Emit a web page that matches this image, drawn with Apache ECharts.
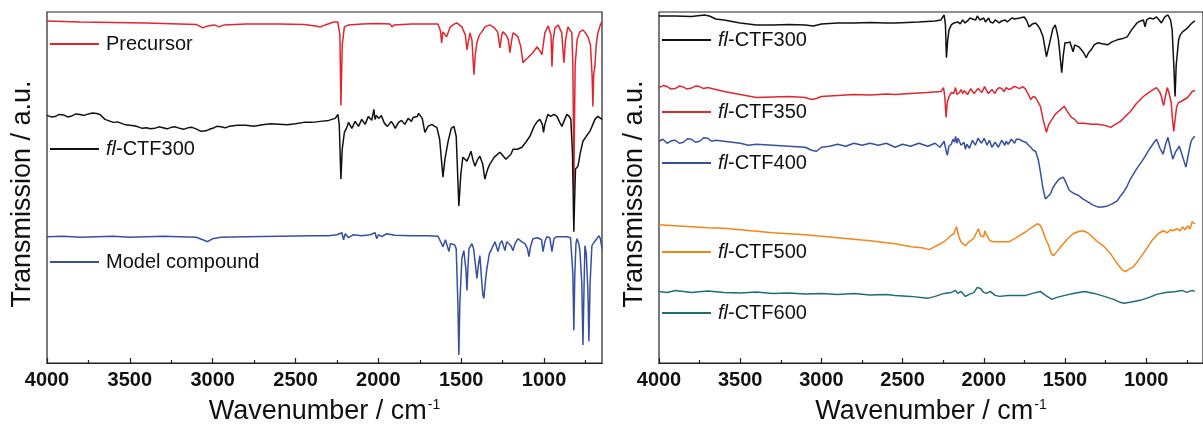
<!DOCTYPE html>
<html>
<head>
<meta charset="utf-8">
<script src="https://cdn.jsdelivr.net/npm/echarts@6/dist/echarts.min.js"></script>
<style>
html,body{margin:0;padding:0;background:#fff;}
#chart{width:1203px;height:430px;}
</style>
</head>
<body>
<div id="chart"></div>
<script>
// ---- tick labels (wavenumber, cm-1) ----
const majorTicks = [4000, 3500, 3000, 2500, 2000, 1500, 1000];
const minorTicks = [3750, 3250, 2750, 2250, 1750, 1250, 750];

// ---- left panel spectra: [wavenumber, transmission a.u.] ----
const precursor = [[4000,344],[3900,343.5],[3800,343],[3600,342.5],[3400,342],[3200,341],[3100,340.5],[3060,337],[3030,339],[2990,340],[2960,338],[2930,340],[2800,341],[2600,341],[2450,340.5],[2380,339],[2350,338],[2320,340],[2270,343],[2245,343],[2232,330],[2226,259],[2218,320],[2205,338],[2180,340],[2100,341],[2000,341.5],[1930,341],[1918,338],[1905,340],[1800,341],[1700,341],[1640,341],[1625,334],[1618,322],[1610,333],[1598,333],[1588,328],[1580,330],[1566,338],[1540,341],[1526,342],[1496,338],[1475,330],[1465,315],[1455,325],[1447,332],[1435,325],[1423,290],[1415,310],[1405,322],[1390,330],[1375,333],[1357,338],[1327,340],[1300,337],[1280,333],[1266,317],[1255,330],[1248,333],[1230,330],[1215,325],[1206,312],[1195,325],[1187,332],[1170,330],[1157,328],[1140,318],[1127,302],[1112,305],[1097,307],[1080,310],[1067,312],[1043,318],[1025,314],[1013,310],[1003,322],[995,332],[975,339],[964,340],[958,330],[952,298],[945,325],[934,337],[915,340],[904,340],[893,332],[880,302],[870,325],[856,338],[845,336],[832,332],[826,300],[822,230],[820,173],[817,230],[812,300],[800,325],[784,333],[765,335],[750,332],[735,328],[720,320],[710,290],[705,258],[700,290],[693,298],[685,320],[675,332],[660,340],[650,343]];

const ctf300Left = [[4000,249],[3975,247.5],[3950,248],[3925,250],[3900,249.5],[3875,247.5],[3850,248.5],[3825,250.5],[3800,250],[3775,249],[3750,250.5],[3725,251.5],[3700,251],[3680,250],[3650,245],[3625,243.5],[3600,242],[3575,242.5],[3550,241],[3525,239.5],[3500,239],[3475,238.5],[3450,237.5],[3425,236],[3400,236.5],[3375,235.5],[3350,236],[3325,237.5],[3300,236.5],[3275,235.5],[3250,237],[3225,237.5],[3200,236],[3175,235],[3150,236.5],[3125,237],[3100,235.5],[3070,233],[3040,233.5],[3020,235],[3000,236],[2975,238],[2950,237.5],[2925,236.5],[2900,238],[2850,239],[2800,239],[2750,238],[2700,239.5],[2650,240.5],[2600,240],[2550,239.5],[2500,240.5],[2450,242],[2400,242],[2350,243],[2300,244],[2260,246],[2244,250],[2236,240],[2226,185],[2218,215],[2205,232],[2190,237],[2180,242],[2171,240],[2160,236],[2150,238],[2140,243],[2130,242],[2120,238],[2110,240],[2100,245],[2090,244],[2080,240],[2070,242],[2060,248],[2050,247],[2040,244],[2033,250],[2027,255],[2020,245],[2012,249],[2005,251],[1998,246],[1990,246],[1982,249],[1973,245],[1963,241],[1955,242],[1945,238],[1935,240],[1922,243],[1910,240],[1898,236],[1888,238],[1878,242],[1870,241],[1860,244],[1850,243],[1840,240],[1830,242],[1820,246],[1809,245],[1800,243],[1790,247],[1778,246],[1765,248],[1757,251],[1749,250],[1735,246],[1719,232],[1700,238],[1677,240],[1660,238],[1647,237],[1630,225],[1610,187],[1598,205],[1580,222],[1560,236],[1544,238],[1530,228],[1514,158],[1502,190],[1490,207],[1478,205],[1465,203],[1452,208],[1441,213],[1430,205],[1417,198],[1400,205],[1387,208],[1370,200],[1357,185],[1340,195],[1327,200],[1300,207],[1280,210],[1266,212],[1245,208],[1230,205],[1218,203],[1200,210],[1187,215],[1160,215],[1133,217],[1110,222],[1085,228],[1060,238],[1040,243],[1025,245],[1010,240],[1003,232],[995,240],[977,250],[960,248],[940,250],[922,248],[905,242],[892,238],[880,243],[862,250],[848,248],[838,245],[828,210],[822,150],[820,132],[816,160],[810,195],[795,198],[780,212],[765,223],[745,228],[723,233],[705,240],[693,245],[675,248],[663,250],[650,245]];

const modelCompound = [[4000,127],[3900,127.5],[3800,126.5],[3700,127],[3600,127.5],[3500,126.5],[3400,127],[3300,127.5],[3200,127],[3100,126.5],[3060,124],[3030,122],[3000,125],[2950,126.5],[2800,127],[2600,127.5],[2400,128],[2300,128],[2250,129],[2220,131],[2210,124],[2200,130],[2180,126],[2150,129],[2100,128],[2050,129],[2020,131],[2010,125],[2000,129],[1980,127],[1950,130],[1900,128.5],[1800,128],[1700,128],[1640,127.5],[1628,127],[1610,117],[1595,124],[1586,123],[1574,112],[1565,120],[1556,122],[1540,119],[1530,115],[1520,60],[1514,8],[1508,60],[1496,105],[1484,113],[1472,95],[1465,73],[1458,100],[1453,115],[1435,120],[1425,115],[1417,115],[1405,85],[1395,100],[1387,108],[1375,80],[1369,68],[1363,65],[1355,80],[1345,95],[1330,110],[1315,115],[1296,122],[1278,112],[1266,120],[1254,123],[1236,113],[1225,122],[1218,123],[1200,118],[1187,113],[1175,120],[1157,125],[1135,122],[1115,120],[1100,115],[1091,107],[1080,118],[1067,125],[1040,126],[1015,124],[1006,112],[995,122],[983,127],[965,126],[952,112],[940,125],[922,127],[880,127],[862,127],[840,126],[832,125],[826,90],[820,33],[814,90],[807,120],[801,125],[790,120],[783,112],[772,80],[765,18],[758,80],[753,118],[745,110],[735,72],[729,22],[722,80],[711,118],[695,122],[681,125],[669,128],[660,125],[650,115]];

// ---- right panel spectra ----
const ctf300 = [[4000,349],[3900,349],[3800,348.5],[3720,350],[3690,349],[3650,346],[3600,345],[3500,342],[3400,340],[3300,340],[3200,340.5],[3100,340],[3050,339],[3000,341],[2900,342],[2800,342],[2700,342.5],[2600,342],[2546,342],[2400,343],[2300,344],[2264,345],[2244,350],[2236,340],[2230,307],[2222,325],[2214,335],[2200,340],[2184,342],[2160,343],[2145,341],[2130,345],[2115,342],[2100,344],[2085,347],[2070,346],[2050,345],[2040,349],[2033,351],[2025,345],[2015,344],[2000,347],[1990,343],[1980,344],[1970,347],[1960,343],[1942,342],[1930,345],[1920,344],[1905,342],[1890,344],[1870,345],[1855,343],[1842,345],[1825,347],[1810,346],[1780,347],[1751,348],[1735,344],[1721,338],[1700,341],[1681,342],[1665,339],[1651,335],[1635,328],[1614,308],[1600,318],[1590,325],[1575,336],[1560,340],[1548,332],[1540,325],[1528,305],[1520,292],[1510,310],[1500,322],[1485,322],[1470,323],[1460,318],[1450,313],[1440,320],[1429,322],[1415,318],[1399,315],[1385,312],[1369,307],[1355,312],[1339,315],[1320,320],[1299,322],[1270,321],[1238,320],[1210,323],[1178,325],[1150,326],[1117,328],[1090,335],[1057,342],[1035,344],[1017,345],[1007,338],[997,345],[977,347],[955,346],[936,348],[920,345],[906,342],[885,348],[866,350],[850,345],[840,335],[830,300],[822,268],[815,300],[800,325],[790,330],[776,333],[760,335],[745,337],[730,340],[717,342],[700,344]];

const ctf350 = [[4000,277],[3975,279],[3950,278],[3925,275.5],[3900,276],[3875,278.5],[3850,277.5],[3825,275.5],[3800,276.5],[3775,278.5],[3750,278],[3725,276],[3700,277],[3650,275],[3600,273],[3500,270],[3400,267],[3300,267.5],[3200,268],[3100,267],[3060,265],[3030,266],[3000,268],[2900,269],[2800,270],[2700,269.5],[2600,270.5],[2546,270],[2450,271],[2350,272],[2264,273],[2248,277],[2240,268],[2232,247],[2225,262],[2214,268],[2200,272],[2185,271],[2174,277],[2165,270],[2150,272],[2140,275],[2130,271],[2120,274],[2110,274],[2100,270],[2090,272],[2080,276],[2070,275],[2060,271],[2050,273],[2035,276],[2023,278],[2012,272],[2005,274],[1995,278],[1985,276],[1972,271],[1960,272],[1950,275],[1942,273],[1930,271],[1920,275],[1905,277],[1890,276],[1875,273],[1862,277],[1845,275],[1830,276],[1815,278],[1800,277.5],[1780,276],[1761,278],[1745,276],[1731,272],[1711,265],[1695,268],[1681,267],[1665,262],[1651,258],[1635,245],[1614,232],[1600,240],[1580,245],[1560,250],[1540,253],[1520,256],[1504,258],[1490,254],[1480,252],[1460,247],[1440,245],[1420,241],[1409,240],[1380,241],[1339,240],[1300,240],[1258,239],[1235,238],[1218,237],[1190,240],[1158,243],[1128,248],[1097,253],[1060,261],[1017,268],[985,272],[957,275],[936,277],[926,278],[915,272],[906,268],[898,262],[892,259],[882,268],[870,277],[860,272],[846,262],[838,245],[830,233],[822,245],[812,258],[800,262],[786,263],[765,265],[745,267],[730,270],[717,273],[700,274]];

const ctf400 = [[4000,223],[3975,225],[3950,221],[3925,223.5],[3900,224],[3875,221],[3850,222],[3825,225.5],[3800,225],[3775,222],[3750,223],[3725,226.5],[3700,226],[3675,223],[3650,224],[3600,223],[3550,222],[3500,221],[3450,219],[3400,220],[3300,219],[3200,218],[3100,217],[3060,214],[3030,213],[3000,217],[2950,218],[2900,220],[2850,218],[2800,221],[2750,219],[2700,221],[2650,219],[2600,221],[2546,217],[2500,220],[2450,218],[2400,221],[2345,218],[2300,221],[2270,217],[2244,223],[2230,212],[2224,209],[2215,218],[2200,220],[2190,225],[2180,222],[2174,228],[2165,221],[2158,226],[2150,224],[2140,219],[2130,218],[2122,222],[2113,215],[2104,220],[2095,221],[2088,216],[2080,218],[2070,224],[2060,225],[2052,219],[2045,220],[2035,226],[2023,227],[2014,221],[2005,219],[1998,226],[1990,225],[1980,219],[1970,218],[1965,224],[1960,222],[1950,217],[1942,217],[1930,222],[1920,221],[1910,217],[1900,219],[1890,224],[1880,223],[1870,219],[1862,223],[1850,220],[1840,221],[1830,225],[1820,224],[1810,221],[1800,225],[1790,223],[1781,225],[1760,223],[1741,222],[1725,219],[1711,217],[1695,214],[1681,213],[1665,205],[1651,192],[1635,175],[1620,165],[1610,163],[1590,170],[1575,176],[1560,180],[1535,185],[1510,187],[1490,180],[1475,174],[1460,172],[1440,170],[1420,169],[1409,170],[1390,165],[1359,162],[1330,159],[1299,157],[1270,157],[1238,158],[1210,160],[1178,163],[1158,168],[1138,172],[1117,178],[1097,185],[1060,195],[1017,205],[980,215],[955,221],[936,225],[915,216],[896,210],[880,220],[866,227],[850,215],[836,205],[820,212],[796,218],[780,210],[765,202],[755,197],[740,210],[725,222],[717,225],[700,228]];

const ctf500 = [[4000,139],[3900,138],[3800,137],[3700,136],[3600,135.5],[3500,134],[3400,132.5],[3300,131],[3200,130],[3100,129],[3000,127.5],[2900,126],[2800,124.5],[2700,123],[2600,121],[2546,120],[2445,117],[2380,116],[2335,114],[2290,118],[2244,122],[2210,127],[2184,130],[2168,137],[2155,128],[2144,123],[2130,120],[2113,118],[2090,122],[2063,125],[2045,131],[2033,135],[2020,128],[2013,130],[2000,127],[1993,133],[1980,128],[1963,123],[1940,122],[1902,122],[1870,122],[1842,122],[1800,126],[1741,132],[1700,137],[1671,140],[1655,139],[1641,135],[1620,125],[1600,118],[1585,110],[1570,108],[1550,112],[1520,118],[1490,124],[1450,130],[1420,132],[1389,133],[1360,131],[1339,128],[1300,122],[1258,117],[1220,110],[1178,100],[1150,94],[1128,92],[1110,94],[1077,97],[1040,105],[997,115],[960,124],[926,130],[896,133],[870,131],[850,134],[836,133],[810,135],[790,133],[776,137],[760,134],[745,138],[730,135],[717,142],[700,140]];

const ctf600 = [[4000,72],[3950,71],[3900,73],[3850,72],[3800,71],[3700,72.5],[3600,71],[3500,70.5],[3400,71.5],[3300,70],[3200,70.5],[3100,69.5],[3000,70],[2900,69],[2800,70],[2700,68.5],[2600,69],[2546,68],[2450,67],[2345,65],[2300,67],[2244,70],[2200,71],[2174,73],[2160,70],[2140,72],[2113,67],[2090,69],[2060,71],[2040,76],[2033,74],[2020,75],[2000,71],[1983,70],[1960,72],[1930,68],[1902,67],[1850,68],[1800,68],[1741,68],[1700,70],[1651,72],[1620,68],[1600,66],[1580,64],[1550,66],[1500,68],[1450,70],[1379,72],[1320,70],[1258,67],[1200,64],[1160,61],[1138,60],[1100,61],[1037,63],[980,66],[936,69],[880,71],[816,72],[780,73],[750,71],[717,73],[700,72]];

// ---- legend labels ----
const labels = {
  precursor: 'Precursor',
  L300: '{i|fl}-CTF300',
  model: 'Model compound',
  R300: '{i|fl}-CTF300',
  R350: '{i|fl}-CTF350',
  R400: '{i|fl}-CTF400',
  R500: '{i|fl}-CTF500',
  R600: '{i|fl}-CTF600'
};

const FONT = 'Liberation Sans, Arial, sans-serif';
const chart = echarts.init(document.getElementById('chart'), null, {renderer: 'canvas'});

function xMajor(gridIndex) {
  return {
    type: 'value', gridIndex, min: 650, max: 4000, inverse: true,
    name: 'Wavenumber / cm{sup|-1}', nameLocation: 'middle', nameGap: 35,
    nameTextStyle: {fontSize: 27, color: '#111', fontFamily: FONT,
      rich: {sup: {fontSize: 14, color: '#111', fontFamily: FONT, verticalAlign: 'top', padding: [0, 0, 12, 1]}}},
    axisLine: {show: true, lineStyle: {color: '#222', width: 1.2}},
    axisTick: {show: true, inside: true, length: 5, customValues: majorTicks, lineStyle: {color: '#222', width: 1.2}},
    axisLabel: {show: true, customValues: majorTicks, margin: 7, fontSize: 20, fontWeight: 'bold', color: '#111', fontFamily: FONT,
      formatter: v => String(v)},
    splitLine: {show: false}
  };
}
function xMinor(gridIndex) {
  return {
    type: 'value', gridIndex, min: 650, max: 4000, inverse: true, position: 'bottom',
    axisLine: {show: true, lineStyle: {color: '#222', width: 1.2}},
    axisTick: {show: true, inside: true, length: 3, customValues: minorTicks, lineStyle: {color: '#222', width: 1.2}},
    axisLabel: {show: false},
    splitLine: {show: false}
  };
}
function yAx(gridIndex) {
  return {
    type: 'value', gridIndex, min: 0, max: 353,
    name: 'Transmission / a.u.', nameLocation: 'middle', nameGap: 11,
    nameTextStyle: {fontSize: 27, color: '#111', fontFamily: FONT, padding: [0, 13, 0, 0]},
    axisLine: {show: false}, axisTick: {show: false}, axisLabel: {show: false}, splitLine: {show: false}
  };
}
function ser(name, data, color, xi, yi) {
  return {name, type: 'line', data, xAxisIndex: xi, yAxisIndex: yi, showSymbol: false, symbol: 'none',
    lineStyle: {color, width: 1.5}, itemStyle: {color}, animation: false, z: 3};
}
function leg(name, left, top) {
  return {
    data: [name], left, top, padding: 0, itemWidth: 49, itemHeight: 2, icon: 'rect',
    selectedMode: false,
    formatter: n => labels[n],
    textStyle: {fontSize: 20, color: '#111', fontFamily: FONT, padding: [0, 0, 0, 2],
      rich: {i: {fontSize: 20, fontStyle: 'italic', color: '#111', fontFamily: FONT}}}
  };
}

const C = {red: '#e0262f', black: '#111111', blue: '#3650a0', orange: '#f0861a', teal: '#1e6c77'};

chart.setOption({
  animation: false,
  backgroundColor: '#fff',
  grid: [
    {left: 47, top: 12, width: 555, height: 353, show: true, borderColor: '#222', borderWidth: 1.2, backgroundColor: 'transparent'},
    {left: 659, top: 12, width: 555, height: 353, show: true, borderColor: '#222', borderWidth: 1.2, backgroundColor: 'transparent'}
  ],
  xAxis: [xMajor(0), xMinor(0), xMajor(1), xMinor(1)],
  yAxis: [yAx(0), yAx(1)],
  legend: [
    leg('precursor', 50, 34),
    leg('L300', 50, 139),
    leg('model', 50, 252),
    leg('R300', 662, 30),
    leg('R350', 662, 102),
    leg('R400', 662, 153),
    leg('R500', 662, 242),
    leg('R600', 662, 303)
  ],
  series: [
    ser('precursor', precursor, C.red, 0, 0),
    ser('L300', ctf300Left, C.black, 0, 0),
    ser('model', modelCompound, C.blue, 0, 0),
    ser('R300', ctf300, C.black, 2, 1),
    ser('R350', ctf350, C.red, 2, 1),
    ser('R400', ctf400, C.blue, 2, 1),
    ser('R500', ctf500, C.orange, 2, 1),
    ser('R600', ctf600, C.teal, 2, 1)
  ]
});
</script>
</body>
</html>
